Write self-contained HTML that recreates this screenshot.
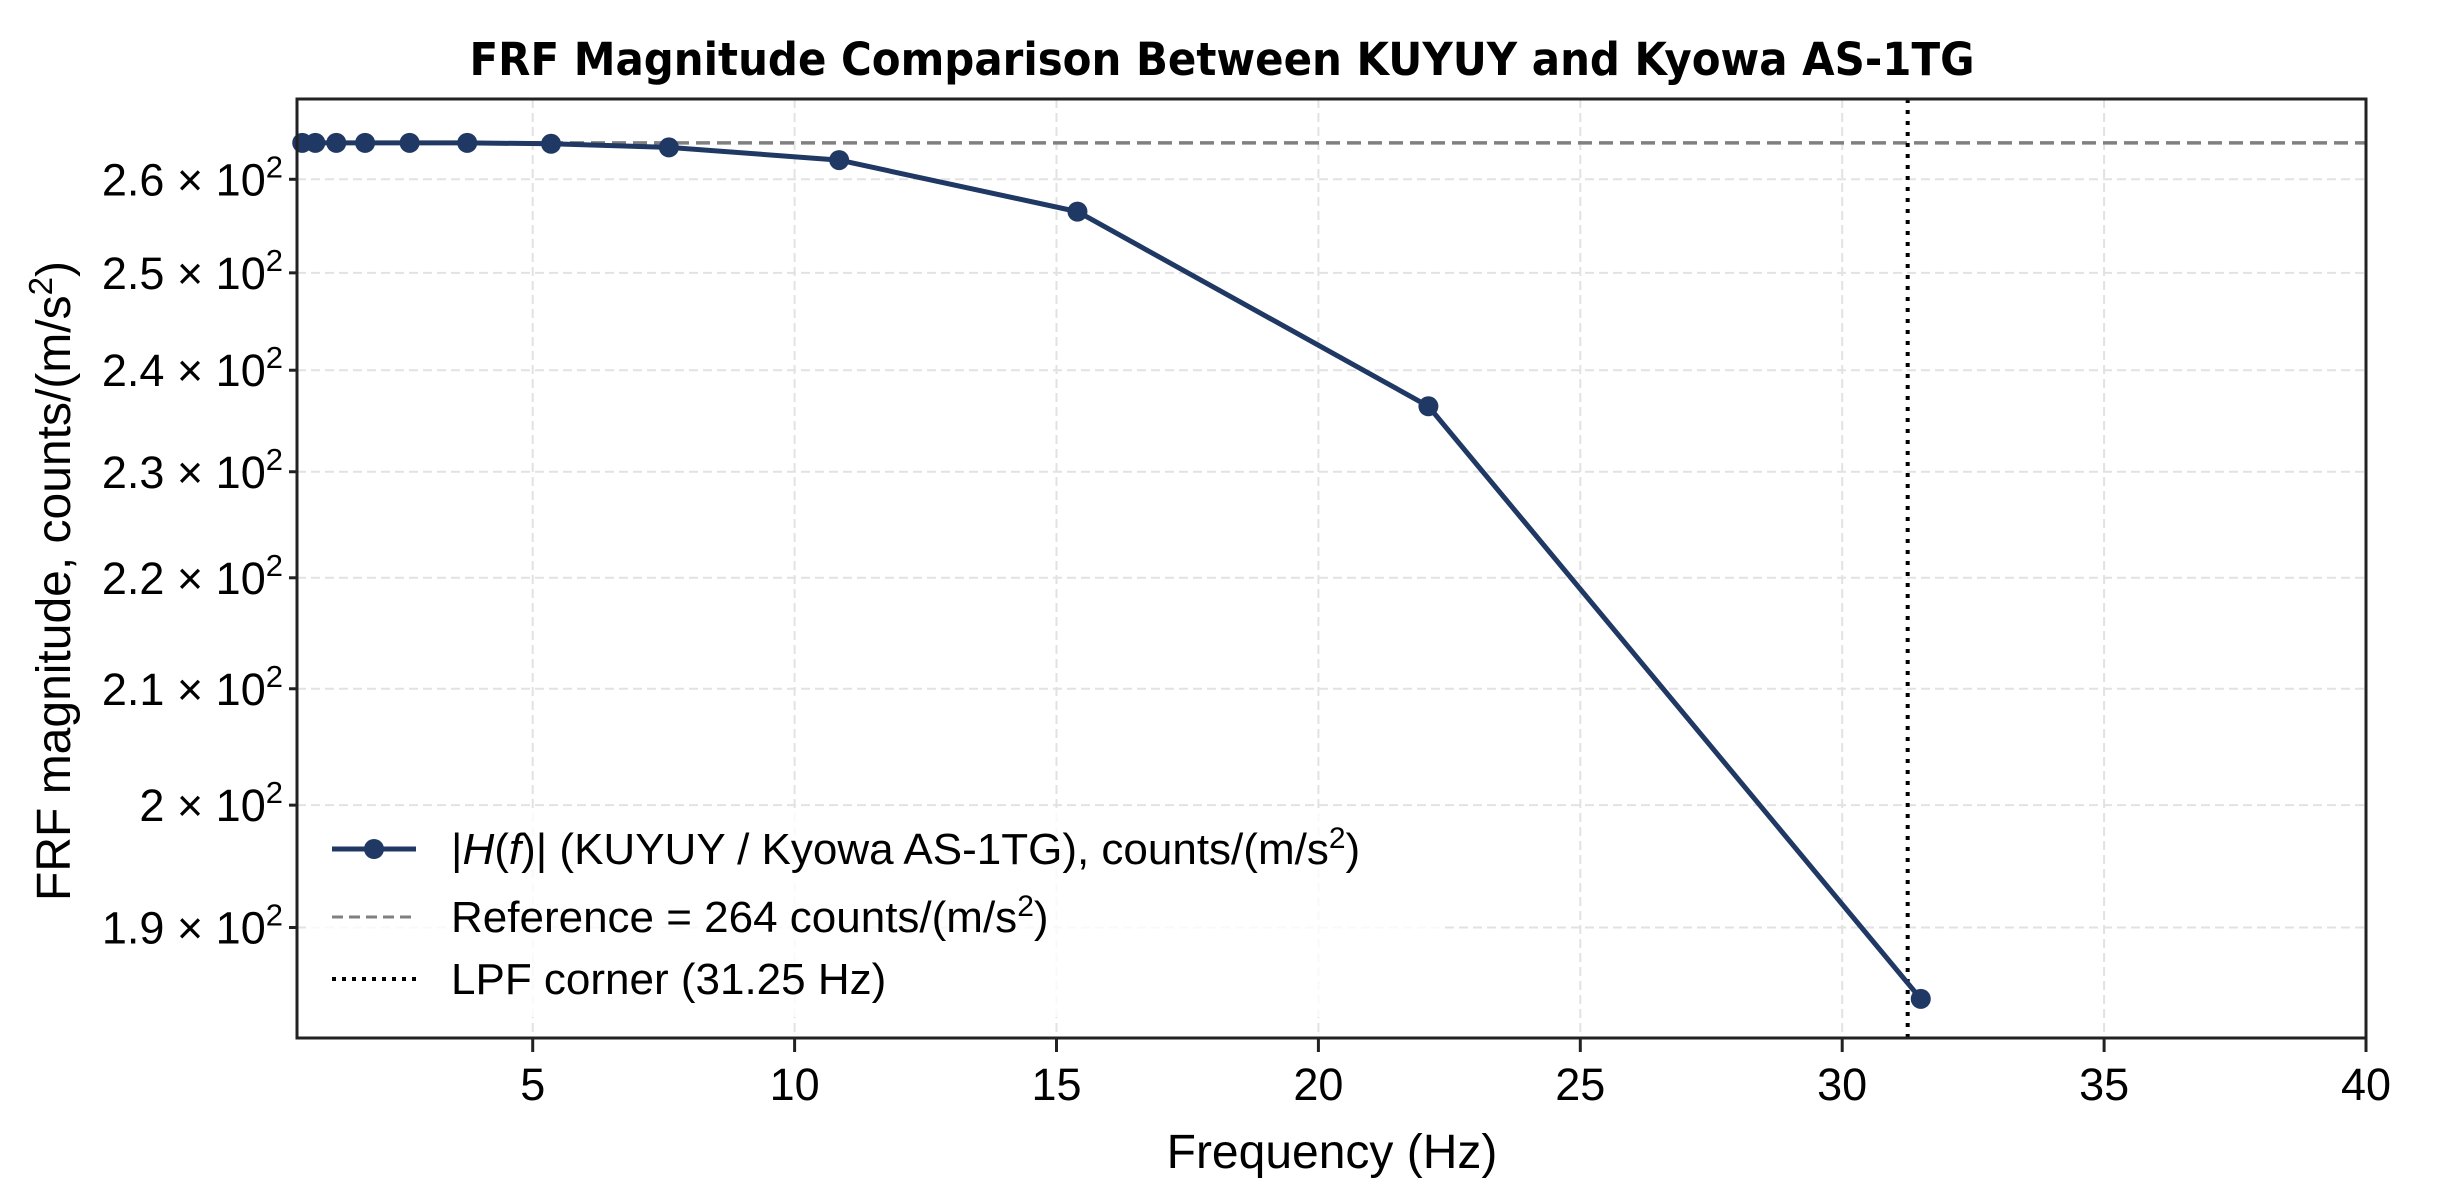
<!DOCTYPE html>
<html><head><meta charset="utf-8"><style>
html,body{margin:0;padding:0;background:#fff;}
svg{display:block;font-family:"Liberation Sans","DejaVu Sans",sans-serif;}
</style></head><body>
<svg id="chart" width="2437" height="1200" viewBox="0 0 2437 1200" xmlns="http://www.w3.org/2000/svg">
<rect width="2437" height="1200" fill="#fff"/>
<text x="1222" y="75" font-size="45" font-weight="bold" text-anchor="middle" font-family="DejaVu Sans, Liberation Sans, sans-serif" textLength="1505" lengthAdjust="spacingAndGlyphs">FRF Magnitude Comparison Between KUYUY and Kyowa AS-1TG</text>
<g id="grid"></g>
<g id="refs"></g>
<g id="series"></g>
<g id="axes"></g>
<g id="legend">
  <rect x="310" y="812" width="1130" height="205" fill="#fff" opacity="0.8"/>
  <line x1="332" y1="849" x2="416" y2="849" stroke="#203864" stroke-width="5"/>
  <circle cx="374" cy="849" r="10" fill="#203864"/>
  <text x="451" y="864" font-size="44">|<tspan font-style="italic">H</tspan>(<tspan font-style="italic">f</tspan>)| (KUYUY / Kyowa AS-1TG), counts/(m/s<tspan dy="-16" font-size="30">2</tspan><tspan dy="16">)</tspan></text>
  <line x1="332" y1="917" x2="416" y2="917" stroke="#808080" stroke-width="3" stroke-dasharray="11,6"/>
  <text x="451" y="932" font-size="44">Reference = 264 counts/(m/s<tspan dy="-16" font-size="30">2</tspan><tspan dy="16">)</tspan></text>
  <line x1="332" y1="979" x2="416" y2="979" stroke="#000" stroke-width="4" stroke-dasharray="4,6"/>
  <text x="451" y="994" font-size="44">LPF corner (31.25 Hz)</text>
</g>
<text x="1332" y="1168" font-size="48" text-anchor="middle">Frequency (Hz)</text>
<text transform="translate(70,581) rotate(-90)" font-size="48" text-anchor="middle">FRF magnitude, counts/(m/s<tspan dy="-18" font-size="33">2</tspan><tspan dy="18">)</tspan></text>
</svg>
<script>
const freqs = [0.6, 0.85, 1.25, 1.8, 2.65, 3.75, 5.35, 7.6, 10.85, 15.4, 22.1, 31.5];
const mags = [264, 264, 264, 264, 264, 264, 263.9, 263.5, 262.1, 256.5, 236.4, 184.4];
const refValue = [264];
const lpfCorner = [31.25];
const xTicks = [5, 10, 15, 20, 25, 30, 35, 40];
const yTicks = [1.9, 2.0, 2.1, 2.2, 2.3, 2.4, 2.5, 2.6];
const yTickLabels = ["1.9", "2", "2.1", "2.2", "2.3", "2.4", "2.5", "2.6"];

const L=297,R=2366,T=99,B=1038;
const xMin=0.5,xMax=40;
const yMin=181.4,yMax=268.9;
const NS="http://www.w3.org/2000/svg";
function xs(v){return L+(v-xMin)/(xMax-xMin)*(R-L);}
function ys(v){return B-(Math.log10(v)-Math.log10(yMin))/(Math.log10(yMax)-Math.log10(yMin))*(B-T);}
function mk(tag,attrs,parent){const e=document.createElementNS(NS,tag);for(const k in attrs)e.setAttribute(k,attrs[k]);parent.appendChild(e);return e;}
const grid=document.getElementById('grid'),axes=document.getElementById('axes'),series=document.getElementById('series'),refs=document.getElementById('refs');
xTicks.forEach(t=>{
  const x=xs(t);
  const g=mk('line',{x1:x,x2:x,y1:T,y2:B,stroke:'#e2e2e2','stroke-width':2,'stroke-dasharray':'9,5'},grid);
  
  
  const tk=mk('line',{x1:x,x2:x,y1:B,y2:B+14,stroke:'#222','stroke-width':3},axes);
  
  
  const lb=mk('text',{x:x,y:B+62,'font-size':45,'text-anchor':'middle'},axes);
  lb.textContent=String(t);
  
  
});
yTicks.forEach((t,i)=>{
  const y=ys(t*100);
  const g=mk('line',{x1:L,x2:R,y1:y,y2:y,stroke:'#e2e2e2','stroke-width':2,'stroke-dasharray':'9,5'},grid);
  
  
  const tk=mk('line',{x1:L-8,x2:L,y1:y,y2:y,stroke:'#222','stroke-width':3},axes);
  
  
  const lb=mk('text',{x:L-14,y:y+16,'font-size':45,'text-anchor':'end'},axes);
  
  
  const a=document.createElementNS(NS,'tspan');a.textContent=yTickLabels[i]+' \u00d7 10';lb.appendChild(a);
  const s=document.createElementNS(NS,'tspan');s.setAttribute('dy','-18');s.setAttribute('font-size','31');s.textContent='2';lb.appendChild(s);
});
const frame=mk('rect',{x:L,y:T,width:R-L,height:B-T,fill:'none',stroke:'#222','stroke-width':3},axes);


const ry=ys(refValue[0]);
const ref=mk('line',{x1:L,x2:R,y1:ry,y2:ry,stroke:'#808080','stroke-width':3.5,'stroke-dasharray':'14,7'},refs);


const lx=xs(lpfCorner[0]);
const lpf=mk('line',{x1:lx,x2:lx,y1:T,y2:B,stroke:'#000','stroke-width':4,'stroke-dasharray':'4,7'},refs);


const pts=freqs.map((f,i)=>xs(f)+','+ys(mags[i])).join(' ');
const pl=mk('polyline',{points:pts,fill:'none',stroke:'#203864','stroke-width':5,'stroke-linejoin':'round'},series);


freqs.forEach((f,i)=>{
  const c=mk('circle',{cx:xs(f),cy:ys(mags[i]),r:10,fill:'#203864'},series);
  
  
});
</script>
</body></html>
